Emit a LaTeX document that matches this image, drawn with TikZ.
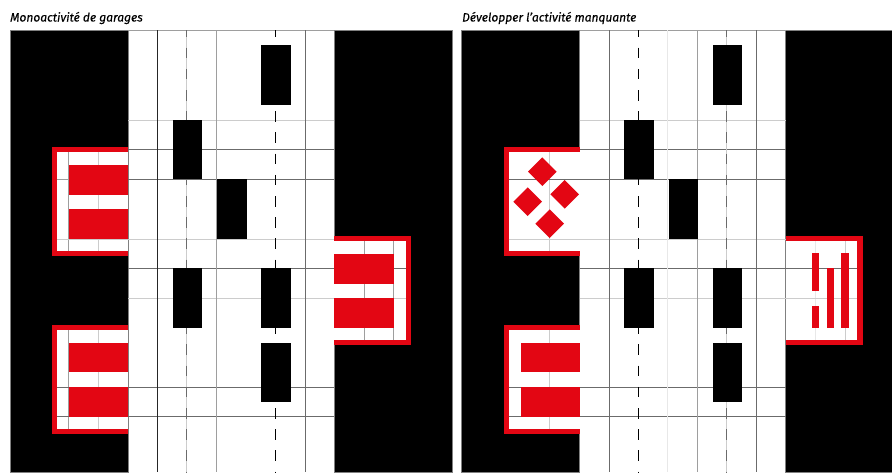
\documentclass[tikz,border=0pt]{standalone}
\usepackage{fontspec}
\setmainfont{Fira Sans}
\definecolor{garageRed}{RGB}{227,6,19}
\tikzset{
  blockFill/.style={fill=black,draw=black!50,line width=.4pt},
  carFill/.style={fill=black},
  redFill/.style={fill=garageRed},
  lineBlack/.style={draw=black!85,line width=.8pt},
  lineDark/.style={draw=black!58,line width=.65pt},
  lineGrey/.style={draw=black!38,line width=.8pt},
  lineLight/.style={draw=black!20,line width=.8pt},
  lineFaint/.style={draw=black!9,line width=.8pt},
  laneDash/.style={dash pattern=on 10.6pt off 10.6pt,dash phase=3.6pt},
  titleText/.style={anchor=base west,inner sep=0pt,font=\fontsize{12}{14}\selectfont\itshape\addfontfeature{FakeBold=0.35}}
}
\newcommand{\streetBase}[1]{
  \fill[blockFill] (10,30) rectangle (128,472);
  \fill[blockFill] (334,30) rectangle (#1,472);
  \draw[lineGrey] (128,30.5) -- (334,30.5);
  \draw[lineLight] (128,120) -- (334,120);
  \draw[lineDark] (128,149.5) -- (334,149.5);
  \draw[lineDark] (128,179.3) -- (334,179.3);
  \draw[lineLight] (128,239) -- (334,239);
  \draw[lineDark] (128,268.3) -- (334,268.3);
  \draw[lineLight] (128,298) -- (334,298);
  \draw[lineDark] (128,387.3) -- (334,387.3);
  \draw[lineDark] (128,416.7) -- (334,416.7);
}
\newcommand{\carRow}{
  \fill[carFill] (261,45.3) rectangle (290.5,105);
  \fill[carFill] (172.5,120) rectangle (202,179.3);
  \fill[carFill] (217,179.3) rectangle (246.5,239);
  \fill[carFill] (172.5,268.3) rectangle (202,327.8);
  \fill[carFill] (261,268.3) rectangle (290.5,327.8);
  \fill[carFill] (261,342.5) rectangle (290.5,402);
}
\newcommand{\garageWest}[1]{
  \fill[redFill] (52,#1) rectangle (128,#1+109);
  \fill[white] (57,#1+5) rectangle (128,#1+104);
}
\newcommand{\garageEast}{
  \fill[redFill] (334,236) rectangle (411,345);
  \fill[white] (334,241) rectangle (405.7,340.3);
}
\newcommand{\redStall}[1]{\fill[redFill] (69,#1) rectangle (128,#1+29.6);}
\newcommand{\redStallEast}[1]{\fill[redFill] (334,#1) rectangle (393.5,#1+29.6);}
\newcommand{\redDiamond}[2]{\fill[redFill] (#1-14.3,#2) -- (#1,#2-14.3) -- (#1+14.3,#2) -- (#1,#2+14.3) -- cycle;}
\begin{document}
\begin{tikzpicture}[x=1pt,y=-1pt]
  \useasboundingbox (0,0) rectangle (892,472);
  \node[titleText] (titleLeft) at (10,21.5) {Monoactivité de garages};
  \node[titleText] (titleRight) at (462,21.5) {Développer l'activité manquante};

  \begin{scope}
    \streetBase{452}
    \draw[lineBlack] (157.6,30) -- (157.6,472);
    \draw[lineLight] (186.8,30) -- (186.8,472);
    \draw[lineDark,laneDash] (186.8,30) -- (186.8,472);
    \draw[lineGrey] (216.6,30) -- (216.6,472);
    \draw[black,line width=1pt,laneDash] (275.8,30) -- (275.8,472);
    \draw[lineDark] (305,30) -- (305,472);
    \garageWest{147}
    \draw[lineGrey] (68.5,152) -- (68.5,251);
    \draw[lineLight] (98,152) -- (98,251);
    \draw[lineGrey] (57,179.3) -- (128,179.3);
    \draw[lineLight] (57,239) -- (128,239);
    \redStall{165}
    \redStall{209.3}
    \garageWest{325.3}
    \draw[lineGrey] (68.5,330.3) -- (68.5,429.3);
    \draw[lineLight] (98,330.3) -- (98,429.3);
    \draw[lineDark] (57,387.3) -- (128,387.3);
    \draw[lineDark] (57,416.7) -- (128,416.7);
    \redStall{342.5}
    \redStall{387.3}
    \garageEast
    \draw[lineGrey] (364,241) -- (364,340.3);
    \draw[lineGrey] (393.5,241) -- (393.5,340.3);
    \draw[lineDark] (334,268.3) -- (405.7,268.3);
    \draw[lineLight] (334,298) -- (405.7,298);
    \redStallEast{254}
    \redStallEast{298}
    \carRow
  \end{scope}

  \begin{scope}[xshift=451.5pt]
    \streetBase{440.5}
    \draw[lineDark,line width=1.2pt] (157.6,30) -- (157.6,472);
    \draw[black,line width=1.1pt,laneDash] (186.8,30) -- (186.8,472);
    \draw[lineFaint] (216.2,30) -- (216.2,472);
    \draw[lineGrey] (245.8,30) -- (245.8,472);
    \draw[lineLight] (275.2,30) -- (275.2,472);
    \draw[lineDark,laneDash] (275.2,30) -- (275.2,472);
    \draw[lineDark] (304.8,30) -- (304.8,472);
    \garageWest{147}
    \draw[lineLight] (98,152) -- (98,251);
    \draw[lineDark] (57,179.3) -- (128,179.3);
    \draw[lineLight] (57,239) -- (128,239);
    \redDiamond{90.8}{171.7}
    \redDiamond{113.2}{194.3}
    \redDiamond{76.2}{201.7}
    \redDiamond{98.2}{223.7}
    \garageWest{325.3}
    \draw[lineLight] (98,330.3) -- (98,429.3);
    \draw[lineDark] (57,387.3) -- (128,387.3);
    \draw[lineDark] (57,416.7) -- (128,416.7);
    \redStall{342.5}
    \redStall{387.3}
    \garageEast
    \draw[lineFaint] (364.2,241) -- (364.2,340.3);
    \draw[lineLight] (393.8,241) -- (393.8,340.3);
    \draw[lineDark] (334,268.3) -- (405.7,268.3);
    \draw[lineLight] (334,298) -- (405.7,298);
    \fill[redFill] (360.2,253.3) rectangle (367.5,290.7);
    \fill[redFill] (360.2,305.7) rectangle (367.5,328);
    \fill[redFill] (375.2,268.3) rectangle (382.5,328);
    \fill[redFill] (389.8,253.3) rectangle (397.2,328);
    \carRow
  \end{scope}
\end{tikzpicture}
\end{document}
